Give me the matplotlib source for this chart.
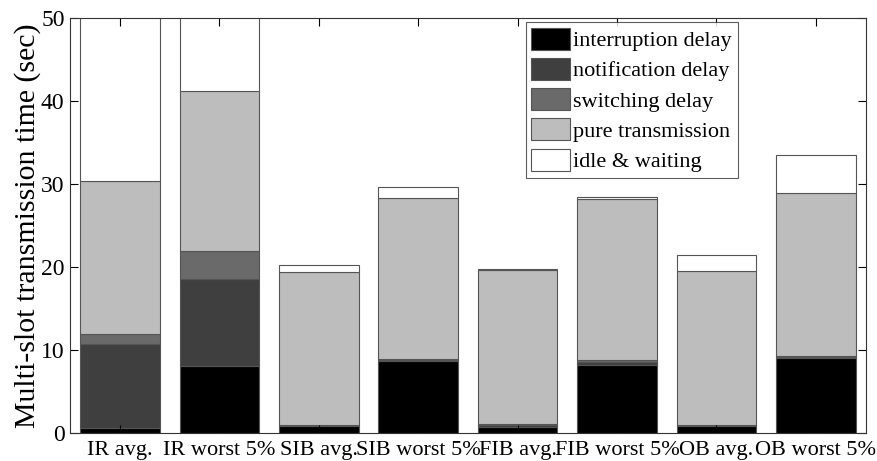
import matplotlib
matplotlib.use("Agg")
import matplotlib.pyplot as plt
import numpy as np

categories = ["IR avg.", "IR worst 5%", "SIB avg.", "SIB worst 5%",
              "FIB avg.", "FIB worst 5%", "OB avg.", "OB worst 5%"]
components = ["interruption delay", "notification delay", "switching delay",
              "pure transmission", "idle & waiting"]

interruption = [0.6, 8.1, 0.8, 8.7, 0.7, 8.2, 0.8, 9.0]
notification = [10.1, 10.4, 0.1, 0.1, 0.2, 0.3, 0.1, 0.2]
switching = [1.2, 3.4, 0.1, 0.1, 0.2, 0.3, 0.1, 0.1]
pure_transmission = [18.5, 19.3, 18.4, 19.4, 18.5, 19.4, 18.5, 19.6]
idle_waiting = [25.0, 12.0, 0.8, 1.3, 0.2, 0.2, 1.9, 4.6]

colors = ["#000000", "#3f3f3f", "#6a6a6a", "#bdbdbd", "#ffffff"]

plt.rcParams["font.family"] = ["Liberation Serif", "DejaVu Serif"]

fig = plt.figure(figsize=(8.77, 4.61), dpi=100)
ax = fig.add_axes([0.080, 0.061, 0.907, 0.900])

x = np.arange(1, len(categories) + 1)
series = [interruption, notification, switching, pure_transmission, idle_waiting]
bottom = np.zeros(len(categories))
for name, vals, col in zip(components, series, colors):
    ax.bar(x, vals, width=0.8, bottom=bottom, color=col, edgecolor="#555555",
           linewidth=0.8, label=name)
    bottom += np.array(vals)

ax.set_xlim(0.5, 8.5)
ax.set_ylim(0, 50)
ax.set_xticks(x)
ax.set_xticklabels(categories, fontsize=16)
ax.set_yticks([0, 10, 20, 30, 40, 50])
ax.tick_params(axis="y", labelsize=17, direction="in", right=True, length=6, pad=4)
ax.tick_params(axis="x", direction="in", top=True, length=6, pad=6)
ax.set_ylabel("Multi-slot transmission time (sec)", fontsize=21.5, labelpad=0)
for s in ax.spines.values():
    s.set_linewidth(0.8)
    s.set_color("#333333")

leg = ax.legend(loc="upper right", bbox_to_anchor=(0.839, 0.99), fontsize=16,
                frameon=True, fancybox=False, edgecolor="#333333",
                handlelength=1.75, handleheight=1.15, handletextpad=0.15,
                labelspacing=0.3, borderpad=0.25, borderaxespad=0.0)
leg.get_frame().set_linewidth(0.8)

fig.savefig("out.png", dpi=100)
